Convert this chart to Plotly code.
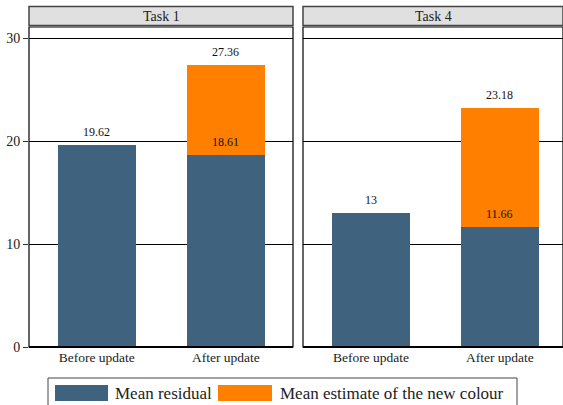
import plotly.graph_objects as go

categories = ["Before update", "After update"]
tasks = ["Task 1", "Task 4"]
residual = {"Task 1": [19.62, 18.61], "Task 4": [13.0, 11.66]}
totals = {"Task 1": [19.62, 27.36], "Task 4": [13.0, 23.18]}
residual_labels = {"Task 1": ["19.62", "18.61"], "Task 4": ["13", "11.66"]}
total_labels = {"Task 1": ["", "27.36"], "Task 4": ["", "23.18"]}
y_ticks = [0, 10, 20, 30]

BLUE = "#3f637e"
ORANGE = "#ff8000"
FONT = "Liberation Serif, Times New Roman, DejaVu Serif, serif"
W, H = 563, 413          # page is captured at 413 px tall and scaled to 405
K = H / 405.0            # map reference pixel rows to page rows

def px(x):
    return x / W

def py(y):
    return 1 - (y * K) / H

fig = go.Figure()

panels = [
    {"task": "Task 1", "x0": 29, "x1": 293, "xaxis": "x", "yaxis": "y", "range": [-0.525, 1.52]},
    {"task": "Task 4", "x0": 303, "x1": 563, "xaxis": "x2", "yaxis": "y2", "range": [-0.527, 1.49]},
]

annotations = []
for p in panels:
    t = p["task"]
    res = residual[t]
    new = [tot - r for tot, r in zip(totals[t], res)]
    fig.add_trace(go.Bar(x=categories, y=res, marker=dict(color=BLUE, line=dict(width=0)),
                         width=0.605, xaxis=p["xaxis"], yaxis=p["yaxis"], showlegend=False,
                         hoverinfo="skip"))
    fig.add_trace(go.Bar(x=categories, y=new, marker=dict(color=ORANGE, line=dict(width=0)),
                         width=0.605, xaxis=p["xaxis"], yaxis=p["yaxis"], showlegend=False,
                         hoverinfo="skip"))
    for c, v, lab in zip(categories, res, residual_labels[t]):
        annotations.append(dict(x=c, y=v, xref=p["xaxis"], yref=p["yaxis"], text=lab,
                                showarrow=False, xanchor="center", yanchor="bottom", yshift=4,
                                font=dict(family=FONT, size=12, color="#111")))
    for c, v, lab in zip(categories, totals[t], total_labels[t]):
        if lab:
            annotations.append(dict(x=c, y=v, xref=p["xaxis"], yref=p["yaxis"], text=lab,
                                    showarrow=False, xanchor="center", yanchor="bottom", yshift=4,
                                    font=dict(family=FONT, size=12, color="#111")))

yr = [0, (347 - 27) / 10.3]
ydom = [py(347), py(27)]

axis_common = dict(showgrid=True, gridcolor="black", gridwidth=1, zeroline=False,
                   tickvals=y_ticks, range=yr, domain=ydom, fixedrange=True)

fig.update_layout(
    width=W, height=H,
    margin=dict(l=0, r=0, t=0, b=0),
    paper_bgcolor="white", plot_bgcolor="white",
    barmode="stack",
    bargap=0,
    font=dict(family=FONT, color="#222"),
    xaxis=dict(domain=[px(29), px(293)], range=panels[0]["range"], type="category",
               tickfont=dict(family=FONT, size=13.5, color="#222"), ticks="", showgrid=False,
               showline=False, fixedrange=True),
    xaxis2=dict(domain=[px(303), px(563)], range=panels[1]["range"], type="category",
                tickfont=dict(family=FONT, size=13.5, color="#222"), ticks="", showgrid=False,
                showline=False, fixedrange=True),
    yaxis=dict(**axis_common, anchor="x", ticks="outside", ticklen=5, tickcolor="#333",
               tickfont=dict(family=FONT, size=14, color="#222"), showticklabels=True),
    yaxis2=dict(**axis_common, anchor="x2", ticks="", showticklabels=False),
)

shapes = []
for p in panels:
    shapes.append(dict(type="rect", xref="paper", yref="paper", x0=px(p["x0"]), x1=px(p["x1"]),
                       y0=py(347), y1=py(27), line=dict(color="black", width=1.2),
                       fillcolor="rgba(0,0,0,0)", layer="above"))
    shapes.append(dict(type="line", xref="paper", yref="paper", x0=px(p["x0"]), x1=px(p["x1"]),
                       y0=py(347), y1=py(347), line=dict(color="black", width=2), layer="above"))
    shapes.append(dict(type="rect", xref="paper", yref="paper", x0=px(p["x0"]), x1=px(p["x1"]),
                       y0=py(25.5), y1=py(6.5), line=dict(color="#444", width=1.5),
                       fillcolor="#e0e0e0", layer="above"))
    annotations.append(dict(xref="paper", yref="paper", x=(px(p["x0"]) + px(p["x1"])) / 2,
                            y=py(16), text=p["task"], showarrow=False, xanchor="center",
                            yanchor="middle", font=dict(family=FONT, size=14, color="#222")))

shapes.append(dict(type="rect", xref="paper", yref="paper", x0=px(48), x1=px(517),
                   y0=py(412), y1=py(378), line=dict(color="#444", width=1),
                   fillcolor="white"))
shapes.append(dict(type="rect", xref="paper", yref="paper", x0=px(55), x1=px(108),
                   y0=py(401), y1=py(385), line=dict(width=0), fillcolor=BLUE))
shapes.append(dict(type="rect", xref="paper", yref="paper", x0=px(218), x1=px(272),
                   y0=py(401), y1=py(385), line=dict(width=0), fillcolor=ORANGE))
annotations.append(dict(xref="paper", yref="paper", x=px(113), y=py(393), text="Mean residual",
                        showarrow=False, xanchor="left", yanchor="middle",
                        font=dict(family=FONT, size=17, color="#222")))
annotations.append(dict(xref="paper", yref="paper", x=px(278), y=py(393),
                        text="Mean estimate of the new colour",
                        showarrow=False, xanchor="left", yanchor="middle",
                        font=dict(family=FONT, size=17, color="#222")))

fig.update_layout(shapes=shapes, annotations=annotations)

post = (
    "var s=document.createElement('style');"
    "s.innerHTML='html,body{margin:0;padding:0;overflow:hidden;}';"
    "document.head.appendChild(s);"
)
fig.write_html("out.html", config={"displayModeBar": False, "staticPlot": True}, post_script=post)
